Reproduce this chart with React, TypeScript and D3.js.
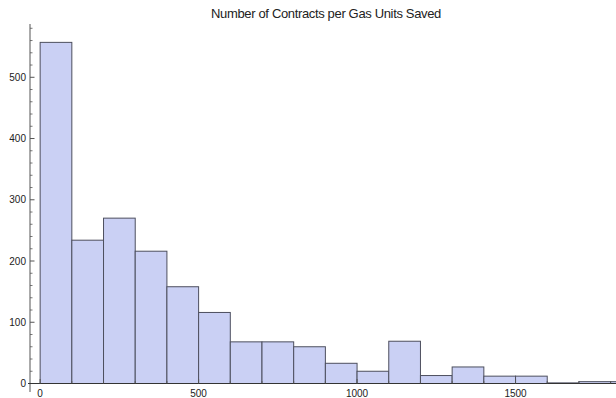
import { useEffect, useRef } from 'react';
import * as d3 from 'd3';

const binEdges = [0, 100, 200, 300, 400, 500, 600, 700, 800, 900, 1000, 1100, 1200, 1300, 1400, 1500, 1600, 1700, 1800, 1900];
const counts = [557, 234, 270, 216, 158, 116, 68, 68, 60, 33, 20, 69, 13, 27, 12, 12, 1, 3, 3];
const xTicks = [0, 500, 1000, 1500];
const yTicks = [0, 100, 200, 300, 400, 500];
const title = 'Number of Contracts per Gas Units Saved';

const HistogramChart = ({ width = 616, height = 398 }: { width?: number; height?: number }) => {
  const ref = useRef<SVGSVGElement | null>(null);

  useEffect(() => {
    if (!ref.current) return;
    const svg = d3.select(ref.current);
    svg.selectAll('*').remove();
    svg.attr('viewBox', `0 0 ${width} ${height}`);

    const left = 30;
    const right = width;
    const top = 24;
    const bottom = 383.5;

    const x = d3.scaleLinear().domain([-32, 1817]).range([left, right]);
    const y = d3.scaleLinear().domain([0, 587]).range([bottom, top]);

    svg
      .append('defs')
      .append('clipPath')
      .attr('id', 'plot-clip')
      .append('rect')
      .attr('x', left)
      .attr('y', 0)
      .attr('width', right - left)
      .attr('height', height);

    const bins = counts.map((c, i) => ({ x0: binEdges[i], x1: binEdges[i + 1], count: c }));

    svg
      .append('g')
      .attr('clip-path', 'url(#plot-clip)')
      .selectAll('rect')
      .data(bins)
      .enter()
      .append('rect')
      .attr('x', (d) => x(d.x0))
      .attr('y', (d) => y(d.count))
      .attr('width', (d) => x(d.x1) - x(d.x0))
      .attr('height', (d) => bottom - y(d.count))
      .attr('fill', '#cad0f4')
      .attr('stroke', '#4d4f5e')
      .attr('stroke-width', 1);

    const axisColor = '#555';
    const font = 'Liberation Sans, Arial, sans-serif';

    // y axis
    svg
      .append('line')
      .attr('x1', left)
      .attr('x2', left)
      .attr('y1', top)
      .attr('y2', 392)
      .attr('stroke', axisColor)
      .attr('stroke-width', 1);

    const minorY = d3.range(0, 587, 20).filter((v) => v % 100 !== 0);
    svg
      .append('g')
      .selectAll('line')
      .data(minorY)
      .enter()
      .append('line')
      .attr('x1', left)
      .attr('x2', left + 2.5)
      .attr('y1', (d) => y(d))
      .attr('y2', (d) => y(d))
      .attr('stroke', axisColor)
      .attr('stroke-width', 0.8);

    const yG = svg.append('g').selectAll('g').data(yTicks).enter().append('g');
    yG.append('line')
      .attr('x1', left)
      .attr('x2', left + 4.5)
      .attr('y1', (d) => y(d))
      .attr('y2', (d) => y(d))
      .attr('stroke', axisColor)
      .attr('stroke-width', 1);
    yG.append('text')
      .attr('x', left - 4)
      .attr('y', (d) => y(d))
      .attr('dy', '0.35em')
      .attr('text-anchor', 'end')
      .attr('font-family', font)
      .attr('font-size', 10)
      .attr('fill', '#222')
      .text((d) => d);

    // x axis
    svg
      .append('line')
      .attr('x1', left - 2)
      .attr('x2', right)
      .attr('y1', bottom)
      .attr('y2', bottom)
      .attr('stroke', '#333')
      .attr('stroke-width', 1.2);

    const minorX = d3.range(100, 1817, 100).filter((v) => v % 500 !== 0);
    svg
      .append('g')
      .selectAll('line')
      .data(minorX)
      .enter()
      .append('line')
      .attr('x1', (d) => x(d))
      .attr('x2', (d) => x(d))
      .attr('y1', bottom)
      .attr('y2', bottom - 2.5)
      .attr('stroke', axisColor)
      .attr('stroke-width', 0.8);

    const xG = svg.append('g').selectAll('g').data(xTicks).enter().append('g');
    xG.append('line')
      .attr('x1', (d) => x(d))
      .attr('x2', (d) => x(d))
      .attr('y1', bottom)
      .attr('y2', bottom - 4.5)
      .attr('stroke', axisColor)
      .attr('stroke-width', 1);
    xG.append('text')
      .attr('x', (d) => x(d))
      .attr('y', 396.5)
      .attr('text-anchor', 'middle')
      .attr('font-family', font)
      .attr('font-size', 10)
      .attr('fill', '#222')
      .text((d) => d);

    svg
      .append('text')
      .attr('x', 326)
      .attr('y', 18)
      .attr('text-anchor', 'middle')
      .attr('font-family', font)
      .attr('font-size', 13)
      .attr('letter-spacing', -0.35)
      .attr('fill', '#222')
      .text(title);
  }, [width, height]);

  return (
    <svg
      ref={ref}
      width={width}
      height={height}
      style={{ position: 'fixed', left: 0, top: 0, background: '#fff' }}
      role="img"
      aria-label={title}
    />
  );
};

export default function App() {
  return <HistogramChart />;
}
